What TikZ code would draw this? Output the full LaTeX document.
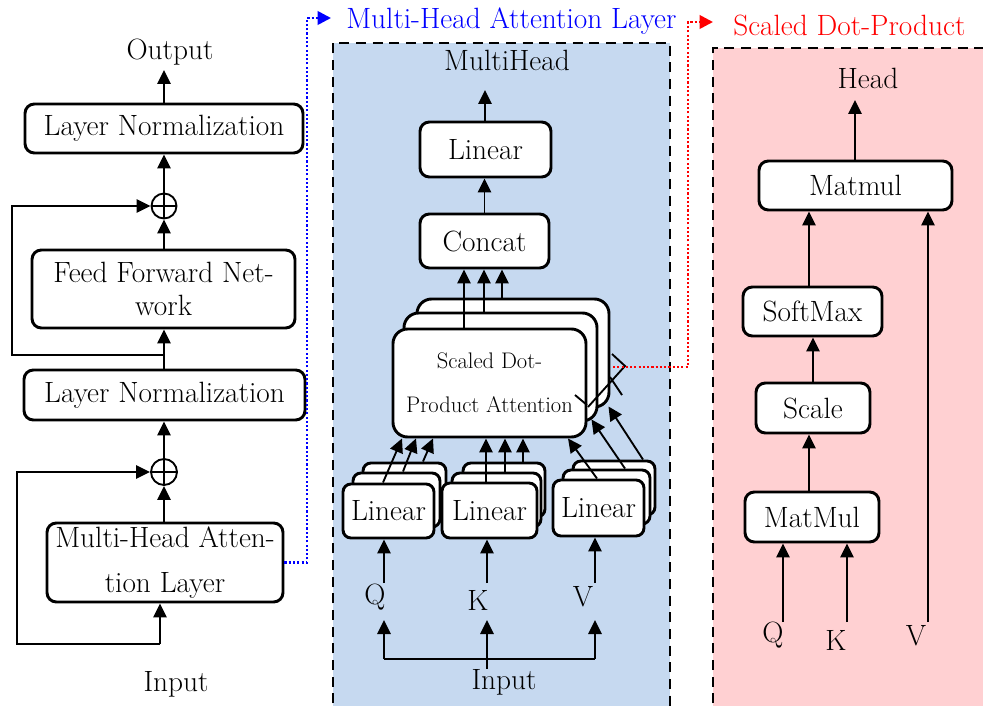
\documentclass[tikz,border=0pt]{standalone}
\usetikzlibrary{arrows.meta,calc}
\definecolor{panelblue}{RGB}{198,217,240}
\definecolor{panelpink}{RGB}{255,208,210}
\begin{document}
\begin{tikzpicture}[x=0.75pt,y=-0.75pt,
  every node/.style={font=\fontsize{22}{26}\selectfont, inner sep=0pt},
  wh/.style 2 args={minimum width=#1*0.75pt, minimum height=#2*0.75pt},
  box/.style={draw, line width=2.2pt, rounded corners=7pt, fill=white, align=center},
  arr/.style={line width=1.4pt, -{Triangle[length=10.5pt,width=10pt]}},
  thinln/.style={line width=1.4pt},
  panel/.style={line width=2.2pt, dash pattern=on 7.5pt off 5pt},
  dotln/.style={line width=2pt, dash pattern=on 1.6pt off 1.6pt, -{Triangle[length=10pt,width=10pt]}},
  ]
\useasboundingbox (0,0) rectangle (983,706);

% ---------- panels ----------
\path[fill=panelblue] (333,43) rectangle (670,720);
\draw[panel] (333,720) -- (333,43) -- (670,43) -- (670,720);
\path[fill=panelpink] (713,48) rectangle (995,720);
\draw[panel] (713,720) -- (713,48) -- (995,48);

% ---------- left column ----------
\node (out) at (170,52) {Output};
\node[box, wh={278}{49}] (ln2) at (164,128.5) {Layer Normalization};
\node[circle, draw, line width=1.4pt, minimum size=25*0.75pt] (add1) at (164,206) {};
\draw[line width=1.2pt] (add1.north) -- (add1.south) (add1.west) -- (add1.east);
\node[box, wh={263}{78}, font=\fontsize{22}{24.75}\selectfont] (ffn) at (163.5,289) {Feed Forward Net-\\work};
\node[box, wh={281}{50}] (ln1) at (164.5,395) {Layer Normalization};
\node[circle, draw, line width=1.4pt, minimum size=26*0.75pt] (add2) at (164,472) {};
\draw[line width=1.2pt] (add2.north) -- (add2.south) (add2.west) -- (add2.east);
\node[box, wh={236}{79}, font=\fontsize{22}{33.75}\selectfont] (mha) at (165,562.5) {Multi-Head Atten-\\tion Layer};
\node (inL) at (176,684) {Input};

\coordinate (outA) at (164,70);
\draw[arr] (ln2.north) -- (outA);
\draw[arr] (add1.north) -- (ln2.south -| add1);
\draw[arr] (ffn.north -| add1) -- (add1.south);
\draw[arr] (ln1.north -| add1) -- (ffn.south -| add1);
\coordinate (r1) at (164,355);
\coordinate (r1l) at (12,355);
\draw[arr] (r1) -- (r1l) |- (add1.west);
\draw[arr] (add2.north) -- (ln1.south -| add2);
\draw[arr] (mha.north -| add2) -- (add2.south);
\coordinate (r2) at (160,644);
\coordinate (r2l) at (17,644);
\draw[arr] (r2) -- (r2 |- mha.south);
\draw[arr] (r2) -- (r2l) |- (add2.west);

% blue dotted link
\coordinate (b1) at (307,562.5);
\coordinate (b3) at (331,18);
\draw[blue, dotln] (mha.east) -- (b1) |- (b3);
\node[text=blue, anchor=west] (mhaT) at (346,21) {Multi-Head Attention Layer};

% ---------- middle panel ----------
\node (mhT) at (507,60) {MultiHead};
\node[box, wh={131}{55}] (linT) at (485.5,149.5) {Linear};
\node[box, wh={129}{54}] (cat) at (484.5,241) {Concat};
\coordinate (mhA) at (485,90);
\draw[arr] (linT.north -| mhA) -- (mhA);
\draw[arr] (cat.north) -- (cat.north |- linT.south);

\node[box, rounded corners=11pt, wh={192}{108}] (sdB) at (513,353) {};
\node[box, rounded corners=11pt, wh={193}{108}] (sdM) at (500.5,367) {};
\node[box, rounded corners=11pt, wh={193}{108}, font=\fontsize{16.9}{33}\selectfont] (sdF) at (489.5,383) {Scaled Dot-\\Product Attention};

\coordinate (c1) at ($(cat.south)+(-20.5,0)$);
\coordinate (c2) at ($(cat.south)+(-0.5,0)$);
\coordinate (c3) at ($(cat.south)+(17.5,0)$);
\draw[arr] (c1 |- sdF.north) -- (c1);
\draw[arr] (c2 |- sdM.north) -- (c2);
\draw[arr] (c3 |- sdB.north) -- (c3);

% Linear stacks
\node[box, rounded corners=6pt, wh={83}{54}] (qB) at (404.5,490) {};
\node[box, rounded corners=6pt, wh={87}{54}] (qM) at (396.5,500) {};
\node[box, rounded corners=6pt, wh={91}{54}] (qF) at (388.5,511) {Linear};
\node[box, rounded corners=6pt, wh={82}{54}] (kB) at (504,490) {};
\node[box, rounded corners=6pt, wh={89}{54}] (kM) at (496.5,500) {};
\node[box, rounded corners=6pt, wh={95}{55}] (kF) at (489.5,510.5) {Linear};
\node[box, rounded corners=6pt, wh={82}{54}] (vB) at (614,488) {};
\node[box, rounded corners=6pt, wh={87}{54}] (vM) at (606.5,497) {};
\node[box, rounded corners=6pt, wh={91}{56}] (vF) at (598.5,508) {Linear};

\draw[arr] ($(qF.north)+(-5.5,0)$) -- ($(sdF.south)+(-87.5,0)$);
\draw[arr] ($(qM.north)+(6.5,0)$) -- ($(sdF.south)+(-73.5,0)$);
\draw[arr] ($(qB.north)+(18.5,0)$) -- ($(sdF.south)+(-56.5,0)$);
\draw[arr] ($(kF.north)+(-3.5,0)$) -- ($(sdF.south)+(-3.5,0)$);
\draw[arr] ($(kM.north)+(8.5,0)$) -- ($(sdF.south)+(15.5,0)$);
\draw[arr] ($(kB.north)+(19,0)$) -- ($(sdF.south)+(33.5,0)$);
\draw[arr] ($(vF.north)+(-1.5,0)$) -- ($(sdF.south)+(78.5,0)$);
\draw[arr] ($(vM.north)+(18.5,0)$) -- ($(sdM.south east)+(-7,-3)$);
\draw[arr] ($(vB.north)+(29,0)$) -- ($(sdB.south east)+(-2,-2)$);

% stray strokes near the stack
\draw[thinln] (612,354) -- (625,366) -- (588,407);
\draw[thinln] (575,395) -- (587,405);
\draw[thinln] (610,377) -- (622,395);

% red dotted link
\coordinate (rd0) at (613,367);
\coordinate (rd1) at (688,367);
\coordinate (rd2) at (713,22);
\draw[red, dotln] (rd0) -- (rd1) |- (rd2);
\node[text=red, anchor=west] (sdT) at (733,25) {Scaled Dot-Product};

% Q K V inputs
\node (Q1) at (375,597) {Q};
\node (K1) at (478,600) {K};
\node (V1) at (583,597) {V};
\coordinate (q1a) at (384,583);
\coordinate (k1a) at (487,583);
\coordinate (v1a) at (595,583);
\draw[arr] (q1a) -- (q1a |- qF.south);
\draw[arr] (k1a) -- (k1a |- kF.south);
\draw[arr] (v1a) -- (v1a |- vF.south);

\node (inM) at (504,682) {Input};
\coordinate (iL) at (384,659);
\coordinate (iC) at (487,659);
\coordinate (iR) at (595,659);
\coordinate (iLt) at (384,620);
\coordinate (iCt) at (487,620);
\coordinate (iRt) at (595,620);
\draw[thinln] (iL) -- (iR);
\draw[arr] (iL) -- (iLt);
\draw[arr] (iR) -- (iRt);
\draw[arr] (iC |- inM.north) -- (iCt);

% ---------- right panel ----------
\node (head) at (868,78) {Head};
\node[box, wh={193}{49}] (mm2) at (855.5,185.5) {Matmul};
\node[box, wh={139}{49}] (sm) at (812.5,311.5) {SoftMax};
\node[box, wh={114}{50}] (sc) at (813,408) {Scale};
\node[box, wh={134}{50}] (mm1) at (812,517) {MatMul};
\coordinate (hA) at (855,100);
\draw[arr] (mm2.north -| hA) -- (hA);
\coordinate (s1) at ($(sm.north)+(-3.5,0)$);
\draw[arr] (s1) -- (s1 |- mm2.south);
\draw[arr] (sc.north) -- (sc.north |- sm.south);
\coordinate (m1) at ($(mm1.north)+(-3,0)$);
\draw[arr] (m1) -- (m1 |- sc.south);

\node (Q2) at (773,635) {Q};
\node (K2) at (836,640) {K};
\node (V2) at (916,636) {V};
\coordinate (q2a) at (783,622);
\coordinate (k2a) at (847,622);
\coordinate (v2a) at (928,622);
\draw[arr] (q2a) -- (q2a |- mm1.south);
\draw[arr] (k2a) -- (k2a |- mm1.south);
\draw[arr] (v2a) -- (v2a |- mm2.south);
\end{tikzpicture}
\end{document}
